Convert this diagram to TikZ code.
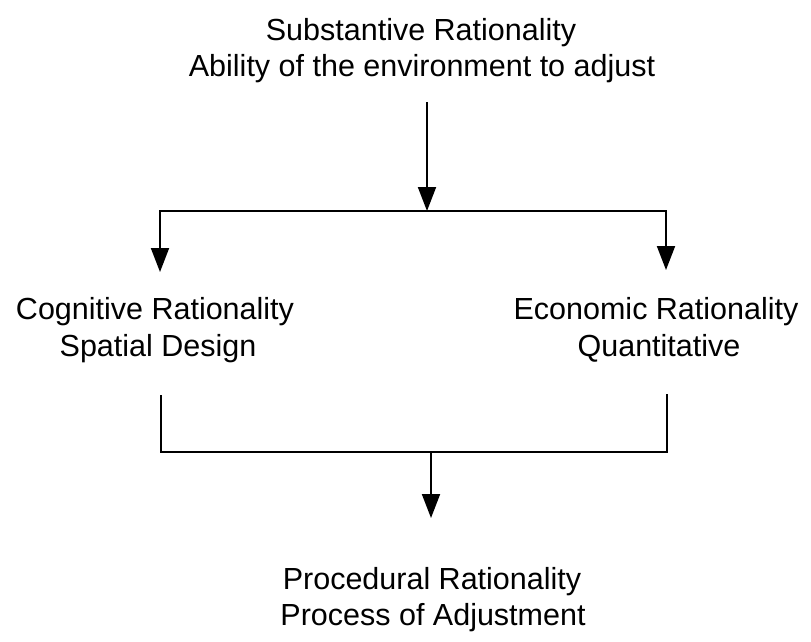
\documentclass[tikz,border=0pt]{standalone}
\usepackage{fontspec}
\setmainfont{Liberation Sans}
\usetikzlibrary{arrows.meta}
\begin{document}
\begin{tikzpicture}[x=1pt,y=-1pt,
  lbl/.style={anchor=base,inner sep=0pt,font=\fontsize{30.5}{34}\selectfont},
  conn/.style={line width=1.9pt},
  arr/.style={conn,-{Triangle[length=24pt,width=18pt]}}]
\useasboundingbox (0,0) rectangle (811,641);
% labels
\node[lbl] (s1) at (421,40) {Substantive Rationality};
\node[lbl] (s2) at (422,76) {Ability of the environment to adjust};
\node[lbl] (c1) at (155,319) {Cognitive Rationality};
\node[lbl] (c2) at (158,356) {Spatial Design};
\node[lbl] (e1) at (656,319) {Economic Rationality};
\node[lbl] (e2) at (659,356) {Quantitative};
\node[lbl] (p1) at (432,589) {Procedural Rationality};
\node[lbl] (p2) at (433,625) {Process of Adjustment};
% junction coordinates
\coordinate (ttop) at (427,102);
\coordinate (hm) at (427,211);
\coordinate (hl) at (160,211);
\coordinate (hr) at (666,211);
\coordinate (la) at (160,272);
\coordinate (ra) at (666,270);
\coordinate (bl) at (161,395);
\coordinate (blc) at (161,452);
\coordinate (br) at (667,394);
\coordinate (brc) at (667,452);
\coordinate (bm) at (431,452);
\coordinate (pa) at (431,518);
% connectors
\draw[arr] (ttop) -- (hm);
\draw[arr] (hm) -- (hl) -- (la);
\draw[arr] (hm) -- (hr) -- (ra);
\draw[conn] (bl) -- (blc) -- (brc) -- (br);
\draw[arr] (bm) -- (pa);
\end{tikzpicture}
\end{document}
